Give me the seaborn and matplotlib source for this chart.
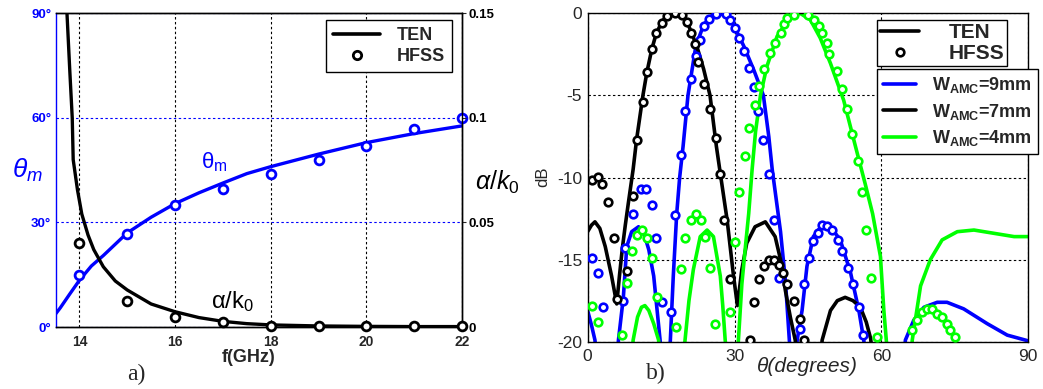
import numpy as np
import pandas as pd
import matplotlib
matplotlib.use("Agg")
import matplotlib.pyplot as plt
from matplotlib.lines import Line2D
import seaborn as sns

# ---------------- DATA ----------------
# Panel a)
freq_theta_ten = [13.5, 13.6, 13.8, 14.0, 14.25, 14.5, 15.0, 15.5, 16.0, 16.5, 17.0, 17.5, 18.0, 19.0, 20.0, 21.0, 22.0]
theta_ten = [3.7, 5.5, 9.5, 13.4, 17.5, 20.5, 27.0, 31.5, 35.4, 38.5, 41.3, 44.0, 46.0, 49.6, 52.9, 55.5, 57.7]
freq_hfss = [14, 15, 16, 17, 18, 19, 20, 21, 22]
theta_hfss = [14.9, 26.8, 34.9, 39.5, 43.9, 47.9, 51.8, 56.9, 59.9]
freq_alpha_ten = [13.70, 13.74, 13.80, 13.85, 13.87, 13.96, 14.05, 14.18, 14.3, 14.5, 14.75, 15.0, 15.5,
                  16.0, 16.5, 17.0, 17.5, 18.0, 19.0, 20.0, 21.0, 22.0]
alpha_ten = [0.17, 0.15, 0.122, 0.10, 0.08, 0.0655, 0.054, 0.044, 0.037, 0.0288, 0.022, 0.0177, 0.011,
             0.0073, 0.0045, 0.0027, 0.0016, 0.001, 0.0005, 0.0003, 0.0002, 0.0002]
alpha_hfss = [0.040, 0.0124, 0.0046, 0.0022, 0.0006, 0.0005, 0.0005, 0.0005, 0.0005]

freq_ticks = [14, 16, 18, 20, 22]
theta_ticks = [0, 30, 60, 90]
theta_ticklabels = ["0°", "30°", "60°", "90°"]
alpha_ticks = [0, 0.05, 0.1, 0.15]
alpha_ticklabels = ["0", "0.05", "0.1", "0.15"]

# Panel b)  (angle in degrees, level in dB)
ang_ten_7 = [0, 0.8, 1.5, 2.5, 3.6, 4.9, 5.95, 6.5, 7.1, 7.7, 8.3, 9.3, 10.0, 11.3, 12.1, 13.1, 14.0, 15.2,
             16.2, 17.9, 19.2, 20.3, 21.1, 22.3, 23.7, 25.0, 26.3, 27.1, 28.5, 29.8, 30.6, 31.5, 32.5, 34.2,
             36.3, 38.3, 39.4, 40.4, 41.4, 42.4, 43.5, 47.0, 47.9, 49.6, 51.0, 52.6, 54.2, 55.7, 56.9, 57.8,
             59.0, 90.0]
db_ten_7 = [-13.3, -12.9, -12.7, -13.1, -14.2, -16.0, -17.7, -16.0, -14.3, -12.9, -11.6, -9.5, -7.7, -5.0,
            -3.6, -2.2, -1.25, -0.5, -0.15, 0.0, -0.1, -0.5, -1.1, -2.0, -3.4, -5.0, -8.1, -9.75, -12.6,
            -16.0, -17.8, -15.6, -14.0, -13.0, -12.7, -13.6, -15.0, -16.9, -18.5, -19.9, -23, -23, -19.9,
            -18.1, -17.5, -17.3, -17.5, -17.9, -18.8, -19.8, -23, -23]

ang_ten_9 = [0, 0.8, 1.5, 2.5, 5.5, 6.3, 7.3, 8.0, 9.0, 10.4, 11.5, 12.5, 13.5, 14.8, 15.5, 16.3, 16.9, 17.5,
             18.2, 18.8, 19.5, 20.5, 22.1, 23.7, 25.5, 27.1, 28.5, 29.8, 31.9, 34.0, 35.9, 37.0, 37.7, 39.4,
             40.4, 41.2, 42.0, 42.8, 43.8, 44.8, 46.1, 47.9, 49.6, 51.6, 53.7, 55.4, 56.4, 57.5, 64.0, 64.9,
             66.6, 68.7, 71.4, 73.4, 76.8, 81.6, 85.7, 90.0]
db_ten_9 = [-18.1, -19.0, -19.9, -23, -23, -19.9, -17.3, -14.2, -13.3, -13.0, -13.4, -14.4, -16.0, -19.9,
            -23, -23, -19.9, -16.0, -12.2, -10.0, -8.1, -5.0, -2.0, -0.7, -0.1, 0.0, -0.25, -0.7, -2.0,
            -3.5, -5.0, -7.5, -9.5, -13.3, -16.3, -19.9, -23, -19.9, -18.1, -15.4, -13.6, -12.9, -13.0,
            -13.8, -15.8, -18.1, -19.9, -23, -23, -19.9, -18.7, -17.9, -17.6, -17.6, -18.0, -18.9, -19.6,
            -19.95]

ang_ten_4 = [8.5, 9.3, 10.2, 11.0, 11.7, 12.5, 13.5, 14.5, 15.2, 19.0, 19.9, 20.7, 21.6, 23.0, 24.4, 25.7,
             27.1, 27.6, 28.1, 28.8, 30.1, 30.8, 31.5, 32.3, 32.9, 33.6, 34.3, 35.3, 36.6, 38.7, 40.5, 41.4,
             43.4, 45.5, 47.5, 49.6, 52.3, 54.7, 56.7, 58.2, 59.8, 60.5, 61.0, 61.7, 65.6, 66.3, 68.0, 70.0,
             72.4, 75.5, 78.9, 83.0, 87.1, 90.0]
db_ten_4 = [-23, -19.9, -18.5, -17.9, -17.8, -18.1, -18.9, -19.9, -23, -23, -19.9, -17.5, -15.6, -13.6,
            -13.2, -13.6, -16.0, -17.8, -19.9, -23, -23, -19.9, -16.5, -14.0, -12.2, -9.5, -7.2, -5.0,
            -3.25, -1.4, -0.6, -0.2, 0.0, -0.4, -1.5, -3.05, -5.3, -8.1, -10.4, -12.2, -14.8, -18.1,
            -19.9, -23, -23, -19.9, -16.6, -15.0, -13.8, -13.3, -13.2, -13.4, -13.6, -13.6]

ang_hfss_7 = [0.8, 2.1, 3.0, 4.1, 5.3, 5.95, 8.0, 9.3, 10.0, 11.3, 12.1, 13.1, 14.0, 15.2, 16.2, 17.9, 19.2,
              20.3, 21.1, 22.0, 22.6, 23.7, 25.0, 26.2, 27.1, 27.9, 29.0, 33.1, 34.0, 35.1, 36.1, 37.0,
              38.0, 39.0, 40.0, 40.8, 42.1, 43.3, 44.1]
db_hfss_7 = [-10.15, -9.95, -10.4, -11.5, -13.7, -17.4, -15.7, -11.1, -7.7, -5.4, -3.6, -2.2, -1.2, -0.57,
             -0.16, 0.0, -0.1, -0.5, -1.2, -1.9, -2.95, -4.3, -5.8, -7.6, -9.8, -12.6, -16.2, -19.9, -17.6,
             -16.2, -15.4, -15.0, -15.0, -15.3, -15.8, -16.5, -17.5, -18.6, -19.9]

ang_hfss_9 = [0.8, 2.1, 3.2, 7.3, 7.6, 9.3, 11.0, 11.9, 13.1, 13.9, 15.2, 17.1, 17.9, 19.1, 19.9, 21.2, 22.1,
              22.9, 23.8, 24.7, 26.2, 28.3, 29.1, 30.0, 31.0, 32.0, 33.0, 33.9, 34.9, 35.9, 37.0, 38.0,
              39.0, 43.3, 44.1, 45.3, 46.0, 47.0, 47.9, 48.9, 49.9, 51.1, 52.0, 53.2, 54.1, 55.5, 56.2]
db_hfss_9 = [-14.9, -15.8, -17.9, -17.5, -14.3, -12.2, -10.7, -10.7, -11.7, -13.7, -17.6, -18.2, -12.3,
             -8.6, -5.95, -4.0, -2.6, -1.6, -0.77, -0.37, -0.04, -0.04, -0.4, -0.9, -1.5, -2.3, -3.35,
             -4.5, -5.95, -7.7, -9.8, -12.6, -16.1, -19.2, -16.5, -14.9, -13.85, -13.4, -12.9, -12.95,
             -13.2, -13.8, -14.5, -15.5, -16.5, -17.9, -19.6]

ang_hfss_4 = [0.8, 2.1, 7.0, 8.0, 9.1, 10.0, 11.1, 12.1, 13.1, 14.1, 18.0, 19.0, 19.9, 21.1, 22.2, 23.1,
              24.0, 25.0, 26.1, 29.1, 30.0, 31.0, 32.2, 33.0, 34.1, 35.1, 36.1, 37.2, 38.2, 39.5, 40.2,
              40.7, 42.1, 45.1, 46.2, 47.2, 47.9, 48.8, 49.4, 50.9, 52.0, 53.0, 54.0, 55.2, 56.1, 56.9,
              57.9, 59.0, 66.3, 67.2, 68.3, 69.4, 70.4, 71.4, 72.4, 73.3, 74.1, 75.1]
db_hfss_4 = [-17.8, -18.8, -19.6, -16.4, -14.5, -13.5, -13.2, -13.7, -14.9, -17.3, -19.1, -15.6, -13.7,
             -12.6, -12.2, -12.6, -13.6, -15.5, -18.9, -18.2, -13.9, -10.9, -8.7, -7.0, -5.6, -4.4, -3.4,
             -2.4, -1.8, -1.2, -0.65, -0.3, -0.1, -0.1, -0.4, -0.8, -1.2, -1.8, -2.5, -3.5, -4.6, -5.85,
             -7.35, -9.0, -10.9, -13.2, -16.1, -19.7, -19.3, -18.7, -18.2, -18.0, -18.0, -18.3, -18.5,
             -18.9, -19.3, -19.7]

ang_ticks = [0, 30, 60, 90]
db_ticks = [-20, -15, -10, -5, 0]
series_labels = ["W$_{\\mathbf{AMC}}$=9mm", "W$_{\\mathbf{AMC}}$=7mm", "W$_{\\mathbf{AMC}}$=4mm"]
series_colors = ["#0000ff", "#000000", "#00ff00"]

# ---------------- STYLE ----------------
sns.set_style("white")
plt.rcParams["font.family"] = ["Liberation Sans", "DejaVu Sans"]
plt.rcParams["mathtext.fontset"] = "custom"
plt.rcParams["mathtext.rm"] = "Liberation Sans"
plt.rcParams["mathtext.it"] = "Liberation Sans:italic"
plt.rcParams["mathtext.bf"] = "Liberation Sans:bold"
plt.rcParams["axes.unicode_minus"] = False

W, H = 1043, 389
fig = plt.figure(figsize=(W / 100, H / 100), dpi=100)


def fx(x):
    return x / W


def fy(y):
    return 1 - y / H


BLUE = "#0000ff"
dash = (0, (2.2, 2.2))

# ---------------- PANEL a ----------------
ax1 = fig.add_axes([fx(55.5), fy(327), fx(462) - fx(55.5), fy(13.3) - fy(327)])
ax1r = ax1.twinx()

sns.lineplot(x=freq_theta_ten, y=theta_ten, ax=ax1, color=BLUE, linewidth=2.4,
             sort=False, estimator=None, legend=False)
sns.scatterplot(x=freq_hfss, y=theta_hfss, ax=ax1, marker="o", s=40, facecolor="white",
                edgecolor=BLUE, linewidth=2.0, legend=False, zorder=3, clip_on=False)
sns.lineplot(x=freq_alpha_ten, y=alpha_ten, ax=ax1r, color="black", linewidth=2.4,
             sort=False, estimator=None, legend=False)
sns.scatterplot(x=freq_hfss, y=alpha_hfss, ax=ax1r, marker="o", s=40, facecolor="white",
                edgecolor="black", linewidth=2.0, legend=False, zorder=3, clip_on=False)

ax1.set_xlim(13.5, 22)
ax1.set_ylim(0, 90)
ax1r.set_ylim(0, 0.15)
ax1.set_xticks(freq_ticks)
ax1.set_xticklabels([str(t) for t in freq_ticks], fontsize=10, fontweight="bold")
ax1.set_yticks(theta_ticks)
ax1.set_yticklabels(theta_ticklabels, fontsize=9.5, fontweight="bold", color=BLUE)
ax1r.set_yticks(alpha_ticks)
ax1r.set_yticklabels(alpha_ticklabels, fontsize=9.5, fontweight="bold", color="black")
ax1.tick_params(axis="x", length=0, pad=6)
ax1.tick_params(axis="y", length=0, pad=3)
ax1r.tick_params(axis="y", length=3, width=0.8, direction="out", pad=2)
ax1.set_xlabel("")
ax1.set_ylabel("")
ax1r.set_ylabel("")

ax1.grid(False)
ax1r.grid(False)
ax1.xaxis.grid(True, color="black", linestyle=dash, linewidth=0.8)
ax1.yaxis.grid(True, color=BLUE, linestyle=dash, linewidth=0.8)
ax1.set_axisbelow(True)

for name, sp in ax1.spines.items():
    sp.set_color("black")
    sp.set_linewidth(1.0)
ax1.spines["left"].set_color(BLUE)
ax1r.spines["left"].set_visible(False)
for name in ["top", "right", "bottom"]:
    ax1r.spines[name].set_color("black")
    ax1r.spines[name].set_linewidth(1.0)

h_ten = Line2D([], [], color="black", linewidth=2.6)
h_hfss = Line2D([], [], color="black", linestyle="none", marker="o", markersize=6,
                markerfacecolor="white", markeredgecolor="black", markeredgewidth=2.0)
leg1 = ax1r.legend([h_ten, h_hfss], ["TEN", "HFSS"], loc="upper right",
                   bbox_to_anchor=(fx(452), fy(20)), bbox_transform=fig.transFigure,
                   borderaxespad=0, frameon=True, fancybox=False, framealpha=1,
                   edgecolor="black", prop={"weight": "bold", "size": 13},
                   handlelength=2.6, handletextpad=0.9, borderpad=0.4, labelspacing=0.2)
leg1.get_frame().set_linewidth(1.0)

fig.text(fx(27), fy(170), r"$\theta_m$", color=BLUE, fontsize=19, ha="center", va="center")
fig.text(fx(497), fy(182), r"$\alpha/k_0$", color="black", fontsize=18, ha="center", va="center")
ax1.text(16.83, 47.4, "θ$_\\mathregular{m}$", color=BLUE, fontsize=16, ha="center", va="center")
ax1.text(17.19, 7.4, "α/k$_\\mathregular{0}$", color="black", fontsize=17, ha="center", va="center")
fig.text(fx(249), fy(357), "f(GHz)", fontsize=13, fontweight="bold", ha="center", va="center")
fig.text(fx(136), fy(374), "a)", family="Liberation Serif", fontsize=17, ha="center", va="center")

# ---------------- PANEL b ----------------
ax2 = fig.add_axes([fx(587.6), fy(341.7), fx(1028.3) - fx(587.6), fy(13.3) - fy(341.7)])

for ang, db, col in [(ang_ten_9, db_ten_9, series_colors[0]),
                     (ang_ten_7, db_ten_7, series_colors[1]),
                     (ang_ten_4, db_ten_4, series_colors[2])]:
    sns.lineplot(x=ang, y=db, ax=ax2, color=col, linewidth=2.6, sort=False,
                 estimator=None, legend=False)

for ang, db, col in [(ang_hfss_9, db_hfss_9, series_colors[0]),
                     (ang_hfss_7, db_hfss_7, series_colors[1]),
                     (ang_hfss_4, db_hfss_4, series_colors[2])]:
    sns.scatterplot(x=ang, y=db, ax=ax2, marker="o", s=30, facecolor="white",
                    edgecolor=col, linewidth=1.9, legend=False, zorder=3)

ax2.set_xlim(0, 90)
ax2.set_ylim(-20, 0)
ax2.set_xticks(ang_ticks)
ax2.set_xticklabels([str(t) for t in ang_ticks], fontsize=12.5)
ax2.set_yticks(db_ticks)
ax2.set_yticklabels([str(t) for t in db_ticks], fontsize=12.5)
ax2.tick_params(axis="x", length=0, pad=5)
ax2.tick_params(axis="y", length=0, pad=4)
ax2.set_xlabel("")
ax2.set_ylabel("")
ax2.grid(True, color="black", linestyle=dash, linewidth=0.8)
ax2.set_axisbelow(True)
for sp in ax2.spines.values():
    sp.set_color("black")
    sp.set_linewidth(1.0)

h2_ten = Line2D([], [], color="black", linewidth=2.6)
h2_hfss = Line2D([], [], color="black", linestyle="none", marker="o", markersize=5.5,
                 markerfacecolor="white", markeredgecolor="black", markeredgewidth=1.9)
legA = ax2.legend([h2_ten, h2_hfss], ["TEN", "HFSS"], loc="upper left",
                  bbox_to_anchor=(fx(876.7), fy(20)), bbox_transform=fig.transFigure,
                  borderaxespad=0, frameon=True, fancybox=False, framealpha=1,
                  edgecolor="black", prop={"weight": "bold", "size": 15},
                  handlelength=1.9, handletextpad=1.4, borderpad=0.15, labelspacing=0.1)
legA.get_frame().set_linewidth(1.0)
ax2.add_artist(legA)

h_series = [Line2D([], [], color=c, linewidth=2.6) for c in series_colors]
legB = ax2.legend(h_series, series_labels, loc="upper left",
                  bbox_to_anchor=(fx(876.7), fy(69)), bbox_transform=fig.transFigure,
                  borderaxespad=0, frameon=True, fancybox=False, framealpha=1,
                  edgecolor="black", prop={"weight": "bold", "size": 13},
                  handlelength=1.8, handletextpad=0.9, borderpad=0.35, labelspacing=0.35)
legB.get_frame().set_linewidth(1.0)
legB.set_clip_on(False)

fig.text(fx(543), fy(177), "dB", fontsize=12, rotation=90, ha="center", va="center")
fig.text(fx(807), fy(367), "θ(degrees)", fontsize=15, style="italic", ha="center", va="center")
fig.text(fx(656), fy(373), "b)", family="Liberation Serif", fontsize=17, ha="center", va="center")

fig.savefig("out.png", dpi=100)
